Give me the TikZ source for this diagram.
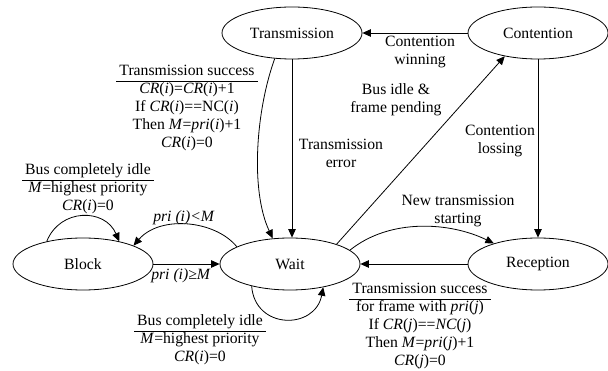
\documentclass[tikz,border=0pt]{standalone}
\usepackage{fontspec}
\setmainfont{Liberation Serif}
\usetikzlibrary{shapes.geometric,arrows.meta}
\newcommand\iv[1]{\textit{#1}}
\begin{document}
\begin{tikzpicture}[x=1pt,y=-1pt,
  every node/.style={font=\fontsize{15.7}{18}\selectfont},
  state/.style={ellipse,draw,line width=0.8pt,minimum width=140pt,minimum height=52pt,inner sep=0pt},
  lbl/.style={align=center,inner sep=0pt},
  tab/.style={inner sep=0pt},
  arr/.style={line width=0.8pt,-{Triangle[length=8.5pt,width=7.5pt]}}]
\useasboundingbox (0,0) rectangle (608,371);
\node[state] (T) at (292,33) {Transmission};
\node[state] (C) at (538,33) {Contention};
\node[state] (W) at (290,264) {Wait};
\node[state] (B) at (83,264) {Block};
\node[state] (R) at (538,264) {Reception};

% edges
\draw[arr] (C.west) -- (T.east);
\draw[arr] (T.south) -- (T.south |- W.north);
\draw[arr] (T.236) .. controls (256,110) and (250,190) .. (W.124);
\draw[arr] (W.23) -- (C.215);
\draw[arr] (C.south) -- (C.south |- R.north);
\draw[arr] (W.13) .. controls (390,218) and (450,222) .. (R.155);
\draw[arr] (R.west) -- (W.east);
\draw[arr] (W.162) .. controls (215,220) and (160,215) .. (B.20);
\draw[arr] (B.east) -- (W.west);
\draw[arr] (B.148) .. controls (60,208) and (105,208) .. (B.32);
\draw[arr] (W.210) .. controls (255,330) and (315,330) .. (W.325);

% labels
\node[lbl] (lcw) at (420,52) {Contention\\winning};
\node[lbl] (lte) at (341,153) {Transmission\\error};
\node[lbl] (lbi) at (396,100) {Bus idle \&\\frame pending};
\node[lbl] (lcl) at (500,141) {Contention\\lossing};
\node[lbl] (lnt) at (458,211) {New transmission\\starting};
\node[lbl] (llt) at (184,218) {\iv{pri (i)<M}};
\node[lbl] (lge) at (181,276) {\iv{pri (i)≥M}};
\node[tab] (lbl1) at (88,189) {\begin{tabular}{@{\hspace{3pt}}c@{\hspace{3pt}}}Bus completely idle\\\hline
  \iv{M}=highest priority\\ \iv{CR}(\iv{i})=0\end{tabular}};
\node[tab] (lts) at (187,108) {\begin{tabular}{@{\hspace{3pt}}c@{\hspace{3pt}}}Transmission success\\\hline
  \iv{CR}(\iv{i})=\iv{CR}(\iv{i})+1\\ If \iv{CR}(\iv{i})==NC(\iv{i})\\ Then \iv{M}=\iv{pri}(\iv{i})+1\\ \iv{CR}(\iv{i})=0\end{tabular}};
\node[tab] (lrs) at (420,326) {\begin{tabular}{@{\hspace{3pt}}c@{\hspace{3pt}}}Transmission success\\\hline
  for frame with \iv{pri}(\iv{j})\\ If \iv{CR}(\iv{j})==\iv{NC}(\iv{j})\\ Then \iv{M}=\iv{pri}(\iv{j})+1\\ \iv{CR}(\iv{j})=0\end{tabular}};
\node[tab] (lwl) at (200,340) {\begin{tabular}{@{\hspace{3pt}}c@{\hspace{3pt}}}Bus completely idle\\\hline
  \iv{M}=highest priority\\ \iv{CR}(\iv{i})=0\end{tabular}};
\end{tikzpicture}
\end{document}
